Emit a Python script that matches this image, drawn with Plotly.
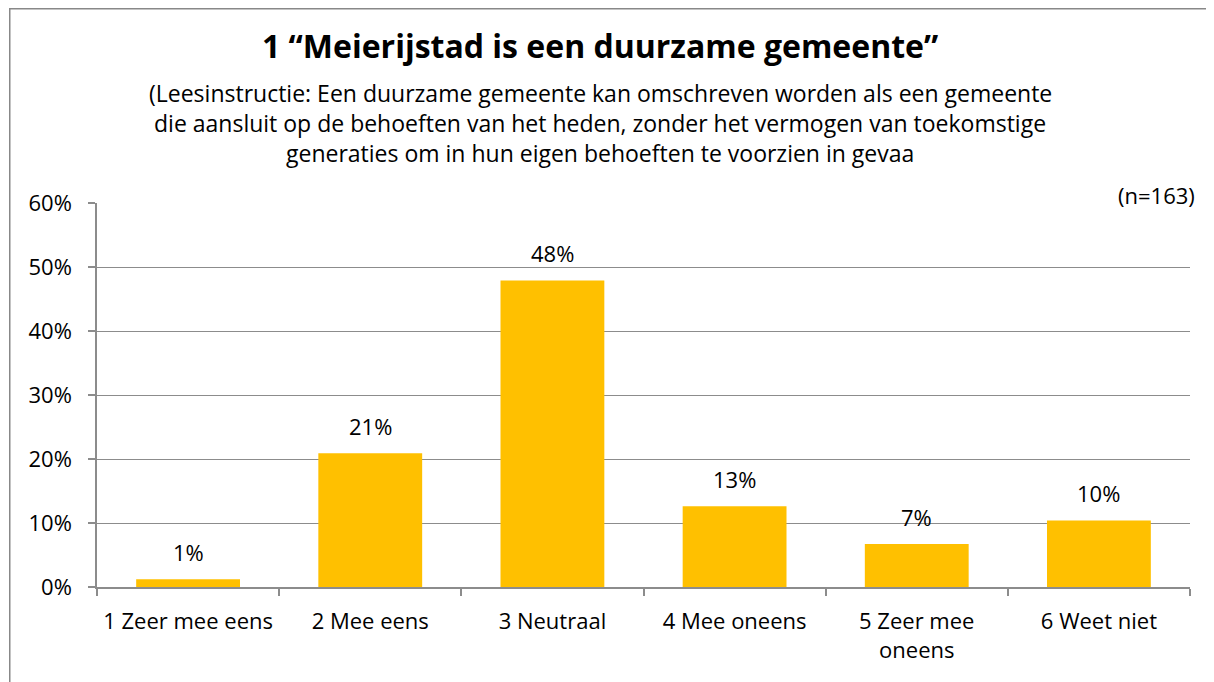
import plotly.graph_objects as go

categories = ["1 Zeer mee eens", "2 Mee eens", "3 Neutraal", "4 Mee oneens", "5 Zeer mee<br>oneens", "6 Weet niet"]
values = [1.2, 20.9, 47.9, 12.6, 6.7, 10.4]
labels = [f"{round(v)}%" for v in values]
y_ticks = [0, 10, 20, 30, 40, 50, 60]
y_tick_labels = [f"{t}%" for t in y_ticks]

title = "<b>1 “Meierijstad is een duurzame gemeente”</b>"
subtitle_lines = [
    "(Leesinstructie: Een duurzame gemeente kan omschreven worden als een gemeente",
    "die aansluit op de behoeften van het heden, zonder het vermogen van toekomstige",
    "generaties om in hun eigen behoeften te voorzien in gevaa",
]
n_label = "(n=163)"

FONT = "Open Sans, Carlito, Calibri, sans-serif"
GRID = "#8c8c8c"

# the page has an 8px body margin; figure is sized to fill the rest of the window
OFF = 8
W, H = 1214 - OFF, 682 - OFF
PL, PR, PT, PB = 97, 1190, 203, 587  # plot area in page pixels
L, T = PL - OFF, PT - OFF
R, B = W - (PR - OFF), H - (PB - OFF)
pw, ph = PR - PL, PB - PT

def px(x):
    return (x - PL) / pw

def py(y):
    return (PB - y) / ph

fig = go.Figure()
fig.add_trace(go.Bar(x=categories, y=values, marker=dict(color="#FFC000", line=dict(width=0)),
                     hoverinfo="skip"))

for c, v, t in zip(categories, values, labels):
    fig.add_annotation(x=c, y=v, text=t, showarrow=False, yshift=27,
                       font=dict(family=FONT, size=22, color="#000"))

fig.add_annotation(xref="paper", yref="paper", x=px(600), y=py(45), text=title, showarrow=False,
                   font=dict(family=FONT, size=32, color="#000"), xanchor="center", yanchor="middle")
for i, line in enumerate(subtitle_lines):
    fig.add_annotation(xref="paper", yref="paper", x=px(600), y=py(93 + 30 * i), text=line, showarrow=False,
                       font=dict(family=FONT, size=23, color="#000"), xanchor="center", yanchor="middle")
fig.add_annotation(xref="paper", yref="paper", x=px(1197), y=py(195), text=n_label, showarrow=False,
                   font=dict(family=FONT, size=22, color="#000"), xanchor="right", yanchor="middle")

# frame: top and left edges only
fig.add_shape(type="line", xref="paper", yref="paper", x0=px(9), x1=px(1220), y0=py(8.75), y1=py(8.75),
              line=dict(color="#888888", width=1.5))
fig.add_shape(type="line", xref="paper", yref="paper", x0=px(9.75), x1=px(9.75), y0=py(8), y1=py(700),
              line=dict(color="#888888", width=1.5))

fig.update_layout(
    width=W, height=H,
    margin=dict(l=L, r=R, t=T, b=B, pad=0, autoexpand=False),
    paper_bgcolor="white", plot_bgcolor="white",
    showlegend=False, bargap=0.43,
    font=dict(family=FONT, size=22, color="#000"),
)
fig.update_xaxes(
    type="category", showgrid=False, showline=True, linecolor=GRID, linewidth=1.5,
    ticks="outside", tickson="boundaries", ticklen=7, tickcolor=GRID, tickwidth=1.5,
    tickfont=dict(family=FONT, size=22, color="#000"), ticklabelstandoff=14,
    tickangle=0, automargin=False,
)
fig.update_yaxes(
    range=[0, 60], tickvals=y_ticks, ticktext=y_tick_labels,
    showgrid=True, gridcolor=GRID, gridwidth=1, showline=True, linecolor=GRID, linewidth=1.5,
    ticks="outside", ticklen=7, tickcolor=GRID, tickwidth=1.5, zeroline=False,
    tickfont=dict(family=FONT, size=22, color="#000"), ticklabelstandoff=12, automargin=False,
)

fig.write_html("out.html")
